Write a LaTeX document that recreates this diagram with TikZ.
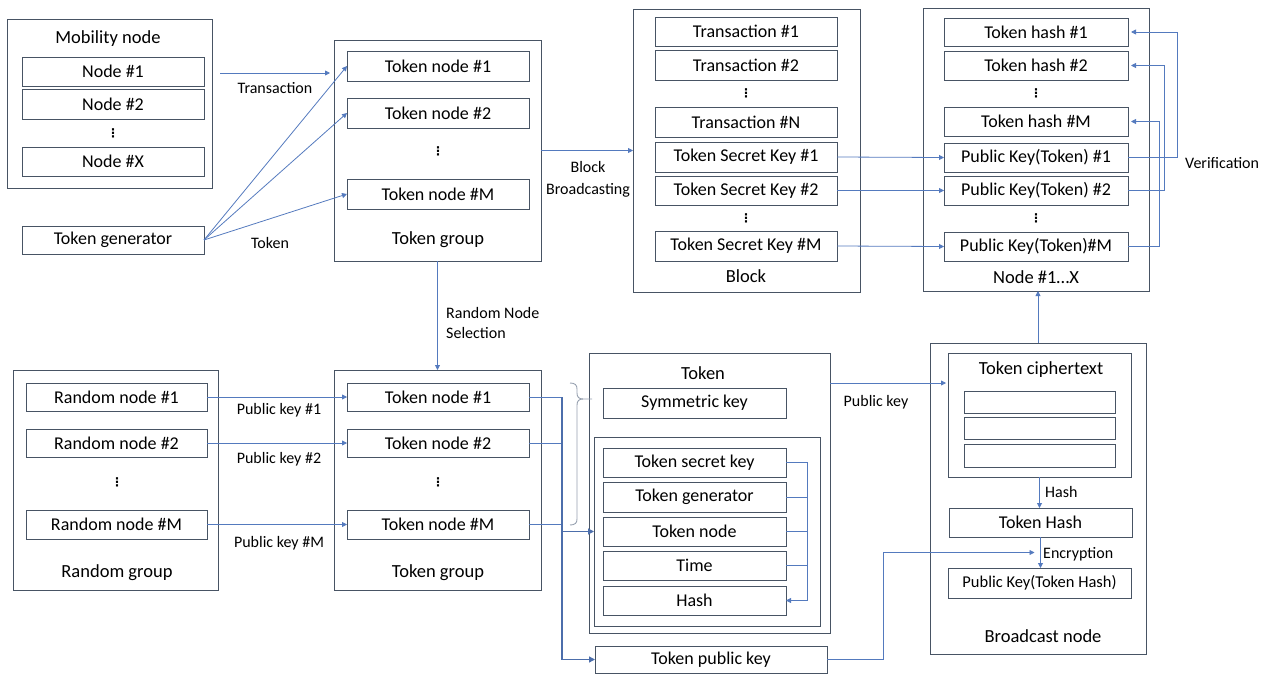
\documentclass[tikz,border=0pt]{standalone}
\usepackage{fontspec}
\setmainfont{Carlito}
\newfontfamily\dejavu{DejaVu Sans}
\usetikzlibrary{arrows.meta,calc}
\definecolor{boxc}{RGB}{72,84,100}
\definecolor{arrc}{RGB}{84,122,190}
\definecolor{bracec}{RGB}{150,160,175}
\newcommand\bx[7][]{\node[box,#1,minimum width={(#5-#3)*1pt},minimum height={(#6-#4)*1pt}] (#2) at ({(#3+#5)/2},{(#4+#6)/2}) {#7};}
\newcommand\dts[3]{\node[dotn] (#1) at (#2,#3) {⋮};}
\begin{document}
\begin{tikzpicture}[x=1pt,y=-1pt,
  box/.style={draw=boxc,line width=0.9pt,inner sep=0pt,outer sep=0pt,font=\fontsize{18}{21}\selectfont,text=black},
  lbl/.style={font=\fontsize{16}{19}\selectfont,inner sep=0pt},
  ttl/.style={font=\fontsize{18.5}{21}\selectfont,inner sep=0pt},
  dotn/.style={font=\dejavu\bfseries\fontsize{12}{12}\selectfont,inner sep=0pt},
  ln/.style={draw=arrc,line width=0.8pt},
  arr/.style={ln,-{Triangle[length=5pt,width=5pt]}},
  thk/.style={draw=arrc!90!black,line width=1.3pt},
  thka/.style={thk,-{Triangle[length=6pt,width=6pt]}},
  bracel/.style={draw=bracec,line width=0.9pt}]
\useasboundingbox (0,0) rectangle (1273,674);

% Mobility node
\bx{mob}{7}{19}{212}{188}{}
\node[ttl] (mobt) at (108,39) {Mobility node};
\bx{n1}{22}{57}{204}{86}{Node \#1}
\bx{n2}{22}{89}{204}{119}{Node \#2}
\dts{d1}{113}{133}
\bx{nX}{22}{147}{204}{176}{Node \#X}
\bx{tgen}{22}{226}{204}{254}{Token generator}

% Upper token group
\bx{tg}{334}{40}{541}{261}{}
\bx{tn1}{347}{51}{529}{81}{Token node \#1}
\bx{tn2}{347}{98}{529}{128}{Token node \#2}
\dts{d2}{438}{151}
\bx{tnM}{347}{179}{529}{209}{Token node \#M}
\node[ttl] (tgt) at (438,240) {Token group};

% Block
\bx{blk}{633}{9}{860}{292}{}
\bx{tr1}{655}{17}{837}{46}{Transaction \#1}
\bx{tr2}{655}{50}{837}{80}{Transaction \#2}
\dts{d3}{746}{93}
\bx{trN}{655}{107}{837}{137}{Transaction \#N}
\bx{sk1}{655}{142}{837}{172}{Token Secret Key \#1}
\bx{sk2}{655}{176}{837}{205}{Token Secret Key \#2}
\dts{d4}{746}{218}
\bx{skM}{655}{231}{837}{261}{Token Secret Key \#M}
\node[ttl] (blkt) at (746,276) {Block};

% Node #1...X
\bx{nx}{923}{8}{1149}{291}{}
\bx{th1}{944}{18}{1128}{46}{Token hash \#1}
\bx{th2}{944}{51}{1128}{80}{Token hash \#2}
\dts{d5}{1036}{93}
\bx{thM}{944}{107}{1128}{136}{Token hash \#M}
\bx{pk1}{944}{143}{1128}{172}{Public Key(Token) \#1}
\bx{pk2}{944}{176}{1128}{205}{Public Key(Token) \#2}
\dts{d6}{1036}{218}
\bx{pkM}{944}{232}{1128}{261}{Public Key(Token)\#M}
\node[ttl] (nxt) at (1036,277) {Node \#1…X};

% Random group
\bx{rg}{13}{370}{218}{590}{}
\bx{rn1}{26}{383}{207}{411}{Random node \#1}
\bx{rn2}{26}{429}{207}{457}{Random node \#2}
\dts{d7}{117}{482}
\bx{rnM}{26}{510}{207}{539}{Random node \#M}
\node[ttl] (rgt) at (117,573) {Random group};

% Lower token group
\bx{tg2}{334}{370}{541}{590}{}
\bx{u1}{347}{383}{529}{411}{Token node \#1}
\bx{u2}{347}{429}{529}{457}{Token node \#2}
\dts{d8}{438}{482}
\bx{uM}{347}{510}{529}{539}{Token node \#M}
\node[ttl] (tg2t) at (438,573) {Token group};

% Token
\bx{tok}{589}{353}{830}{633}{}
\node[ttl] (tokt) at (703,373) {Token};
\bx{sym}{603}{388}{786}{418}{Symmetric key}
\bx{tin}{594}{437}{820}{626}{}
\bx{tsk}{603}{448}{786}{477}{Token secret key}
\bx{tgn}{603}{482}{786}{512}{Token generator}
\bx{tnd}{603}{517}{786}{546}{Token node}
\bx{tim}{603}{551}{786}{580}{Time}
\bx{hsh}{603}{586}{786}{615}{Hash}
\bx{tpk}{595}{646}{827}{673}{Token public key}

% Broadcast node
\bx{bn}{930}{343}{1146}{654}{}
\bx{tc}{948}{353}{1131}{477}{}
\node[ttl] (tct) at (1041,370) {Token ciphertext};
\bx{e1}{964}{391}{1115}{413}{}
\bx{e2}{964}{417}{1115}{439}{}
\bx{e3}{964}{444}{1115}{467}{}
\bx{thh}{949}{508}{1132}{537}{Token Hash}
\bx[font=\fontsize{16.5}{19}\selectfont]{pkth}{948}{568}{1131}{598}{Public Key(Token Hash)}
\node[ttl] (bnt) at (1043,636) {Broadcast node};

% ---- connectors ----
\coordinate (trs) at (220,73);
\draw[arr,shorten >=4pt] (trs) -- (trs -| tg.west);
\node[lbl] (trl) at (275,88) {Transaction};
\foreach \t in {tn1,tn2,tnM} \draw[arr] (tgen.east) -- (\t.west);
\node[lbl] (tokl) at (270,243) {Token};

\draw[arr] (tg.east) -- (blk.west);
\node[lbl,align=center,font=\fontsize{16}{22}\selectfont] (bbl) at (588,179) {Block\\Broadcasting};

\foreach \a/\b in {sk1/pk1,sk2/pk2,skM/pkM} \draw[arr] (\a.east) -- (\b.west);

\draw[arr,shorten >=3pt] (pk1.east) -- ++(49,0) |- (th1.east);
\draw[arr,shorten >=3pt] (pk2.east) -- ++(36,0) |- (th2.east);
\draw[arr,shorten >=3pt] (pkM.east) -- ++(31,0) |- (thM.east);
\node[lbl,anchor=west] (verl) at (1185,163) {Verification};

\draw[arr] (tg.south) -- (tg2.north);
\node[lbl,anchor=west,align=left,font=\fontsize{16}{20}\selectfont] (rnsl) at (446,323) {Random Node\\Selection};

\foreach \a/\b in {rn1/u1,rn2/u2,rnM/uM} \draw[arr] (\a.east) -- (\b.west);
\node[lbl] (pk1l) at (279,410) {Public key \#1};
\node[lbl] (pk2l) at (279,459) {Public key \#2};
\node[lbl] (pkMl) at (279,543) {Public key \#M};

\coordinate (bt) at (562,0);
\draw[ln] (u1.east) -- (u1.east -| bt);
\draw[ln] (u2.east) -- (u2.east -| bt);
\draw[ln] (uM.east) -- (uM.east -| bt);
\draw[thka] (u1.east -| bt) -- (tpk.west -| bt) -- (tpk.west);
\draw[thka] (tnd.west -| bt) -- (tnd.west -| tin.west);

\coordinate (tbx) at (807,0);
\draw[arr] (tsk.east) -| (tbx |- hsh.east) -- (hsh.east);
\foreach \t in {tgn,tnd,tim} \draw[ln] (\t.east) -- (\t.east -| tbx);

\draw[arr,shorten >=2pt] ([yshift=-30pt]tok.north east) -- ([yshift=-30pt]tok.north east -| tc.west);
\node[lbl] (pkl) at (876,402) {Public key};

\draw[arr] (tc.south) -- (tc.south |- thh.north);
\node[lbl,anchor=west] (hl) at (1045,492) {Hash};
\draw[arr] (thh.south) -- (thh.south |- pkth.north);
\node[lbl,anchor=west] (el) at (1043,554) {Encryption};
\coordinate (encin) at ($(thh.south)!0.5!(thh.south |- pkth.north)+(-6,0)$);
\draw[arr] (tpk.east) -- ++(56,0) |- (encin);

\draw[arr] (bn.north) -- (bn.north |- nx.south);

% brace
\draw[bracel] (570,383) .. controls (575,383) and (577,385) .. (577,389) -- (577,393) .. controls (577,397) and (579,399) .. (583,399) -- (592,399);
\draw[bracel] (583,399) .. controls (579,399) and (577,401) .. (577,405) -- (577,519) .. controls (577,523) and (575,525) .. (570,525);
\end{tikzpicture}
\end{document}
